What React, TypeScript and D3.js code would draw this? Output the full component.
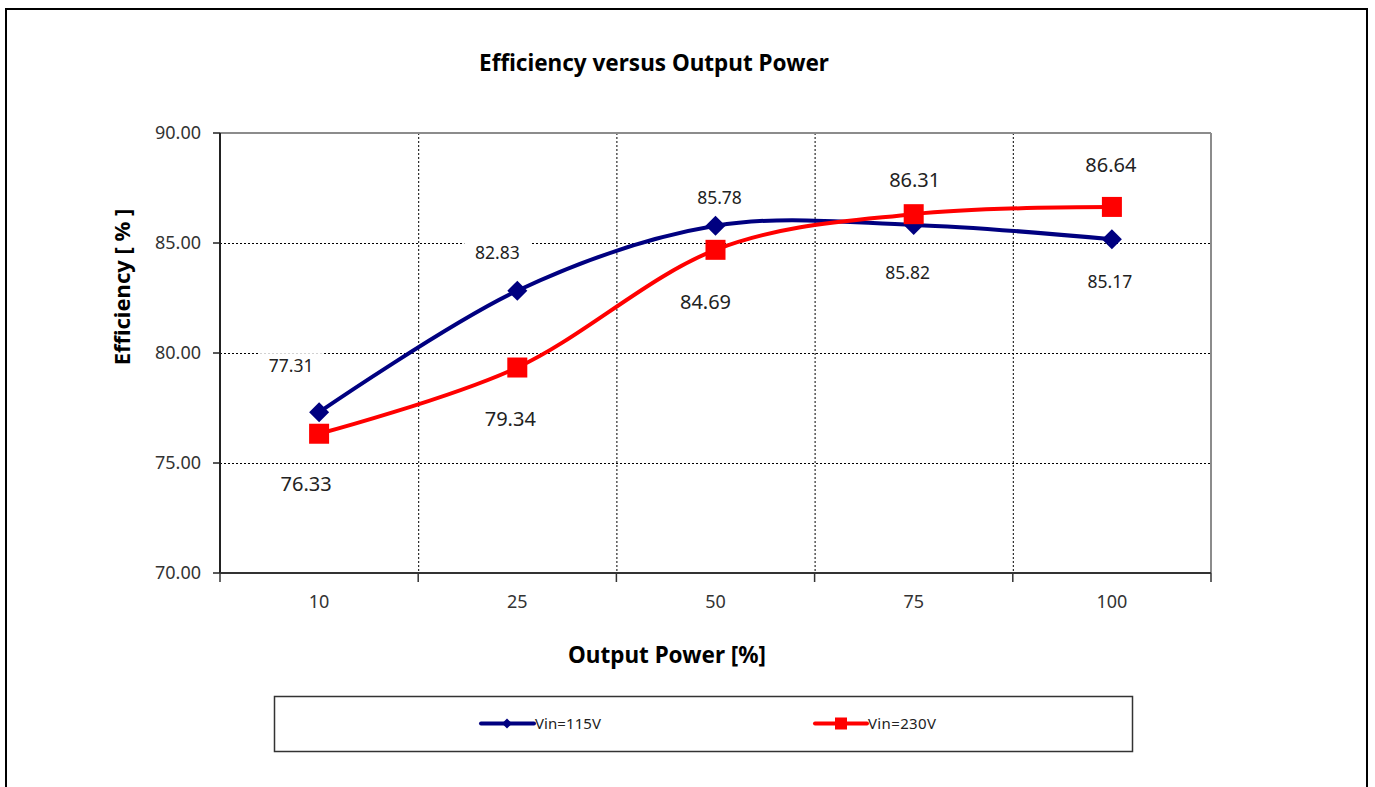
import React from "react";
import * as d3 from "d3";

const categories = ["10", "25", "50", "75", "100"];
const vin115 = [77.31, 82.83, 85.78, 85.82, 85.17];
const vin230 = [76.33, 79.34, 84.69, 86.31, 86.64];
const yTicks = [70, 75, 80, 85, 90];
const seriesNames = ["Vin=115V", "Vin=230V"];
// label offsets (dx, dy) relative to the marker
const labelOffset115 = [[-28, -46], [-20, -38], [4, -28], [-6, 48], [-2, 43]];
const labelOffset230 = [[-13, 50], [-7, 51], [-10, 52], [1, -34], [-1, -42]];

const W = 1375, H = 787;
const L = 220, R = 1211, T = 133, B = 573;
const FONT = "'Noto Sans', 'Open Sans', sans-serif";

export default function App() {
  const x = d3.scaleBand<string>().domain(categories).range([L, R]).padding(0);
  const y = d3.scaleLinear().domain([70, 90]).range([B, T]);
  const cx = (c: string) => (x(c) as number) + x.bandwidth() / 2;
  const line = d3
    .line<number>()
    .x((_, i) => cx(categories[i]))
    .y((d) => y(d))
    .curve(d3.curveCardinal.tension(0));
  const boundaries = categories.slice(1).map((c) => x(c) as number);
  const allBounds = [L, ...boundaries, R];

  const diamond = (px: number, py: number, r: number) =>
    `M${px},${py - r}L${px + r},${py}L${px},${py + r}L${px - r},${py}Z`;

  return (
    <svg width={W} height={H} style={{ position: "absolute", left: 0, top: 0, background: "#fff" }} fontFamily={FONT}>
      <rect x={6} y={9} width={1361} height={800} fill="#fff" stroke="#000" strokeWidth={2} />
      <text x={654} y={63} dy="0.35em" textAnchor="middle" fontSize={22.5} fontWeight="bold" fill="#000">
        Efficiency versus Output Power
      </text>
      {/* gridlines */}
      {yTicks.filter((t) => t > 70 && t < 90).map((t) => (
        <line key={"gy" + t} x1={L} x2={R} y1={y(t) + 0.5} y2={y(t) + 0.5} stroke="#000" strokeWidth={1} strokeDasharray="2,2" />
      ))}
      {boundaries.map((b, i) => (
        <line key={"gx" + i} x1={b + 0.5} x2={b + 0.5} y1={T} y2={B} stroke="#000" strokeWidth={1} strokeDasharray="2,2" />
      ))}
      {/* plot border */}
      <line x1={L} x2={R} y1={T} y2={T} stroke="#8c8c8c" strokeWidth={2} />
      <line x1={R} x2={R} y1={T} y2={B} stroke="#8c8c8c" strokeWidth={2} />
      {/* axes */}
      <line x1={L} x2={L} y1={T} y2={B} stroke="#222" strokeWidth={2} />
      <line x1={L} x2={R} y1={B} y2={B} stroke="#333" strokeWidth={2} />
      {yTicks.map((t) => (
        <g key={"yt" + t}>
          <line x1={L - 7} x2={L} y1={y(t)} y2={y(t)} stroke="#222" strokeWidth={1.5} />
          <text x={201} y={y(t)} dy="0.35em" textAnchor="end" fontSize={18} fill="#333">
            {t.toFixed(2)}
          </text>
        </g>
      ))}
      {allBounds.map((b, i) => (
        <line key={"xt" + i} x1={b} x2={b} y1={B} y2={B + 9} stroke="#333" strokeWidth={1.5} />
      ))}
      {categories.map((c) => (
        <text key={"xl" + c} x={cx(c)} y={602} dy="0.35em" textAnchor="middle" fontSize={18} fill="#333">
          {c}
        </text>
      ))}
      <text x={667} y={655} dy="0.35em" textAnchor="middle" fontSize={22.5} fontWeight="bold" fill="#000">
        Output Power [%]
      </text>
      <text transform={`translate(122,287) rotate(-90)`} dy="0.35em" textAnchor="middle" fontSize={22} fontWeight="bold" fill="#000">
        Efficiency [ % ]
      </text>
      {/* series */}
      <path d={line(vin115) || ""} fill="none" stroke="#000080" strokeWidth={4} />
      <path d={line(vin230) || ""} fill="none" stroke="#ff0000" strokeWidth={4} />
      {vin115.map((v, i) => (
        <path key={"m1" + i} d={diamond(cx(categories[i]), y(v), 10)} fill="#000080" />
      ))}
      {vin230.map((v, i) => (
        <rect key={"m2" + i} x={cx(categories[i]) - 10} y={y(v) - 10} width={20} height={20} fill="#ff0000" />
      ))}
      {/* data labels */}
      {vin115.map((v, i) => {
        const px = cx(categories[i]) + labelOffset115[i][0];
        const py = y(v) + labelOffset115[i][1];
        return (
          <g key={"l1" + i}>
            <rect x={px - 33} y={py - 13} width={66} height={26} fill="#fff" />
            <text x={px} y={py} dy="0.35em" textAnchor="middle" fontSize={17.5} fill="#222">
              {v.toFixed(2)}
            </text>
          </g>
        );
      })}
      {vin230.map((v, i) => {
        const px = cx(categories[i]) + labelOffset230[i][0];
        const py = y(v) + labelOffset230[i][1];
        return (
          <text key={"l2" + i} x={px} y={py} dy="0.35em" textAnchor="middle" fontSize={20} fill="#222">
            {v.toFixed(2)}
          </text>
        );
      })}
      {/* legend */}
      <rect x={274.5} y={696.5} width={858} height={55} fill="#fff" stroke="#333" strokeWidth={1.5} />
      <line x1={481} x2={534} y1={723.5} y2={723.5} stroke="#000080" strokeWidth={4} strokeLinecap="round" />
      <path d={diamond(507, 723.5, 5)} fill="#000080" />
      <text x={535} y={723.5} dy="0.35em" fontSize={15} fill="#222" textLength={66}>
        {seriesNames[0]}
      </text>
      <line x1={815} x2={867} y1={723.5} y2={723.5} stroke="#ff0000" strokeWidth={4} strokeLinecap="round" />
      <rect x={835} y={717.5} width={12} height={12} fill="#ff0000" />
      <text x={868} y={723.5} dy="0.35em" fontSize={15} fill="#222" textLength={68}>
        {seriesNames[1]}
      </text>
    </svg>
  );
}
